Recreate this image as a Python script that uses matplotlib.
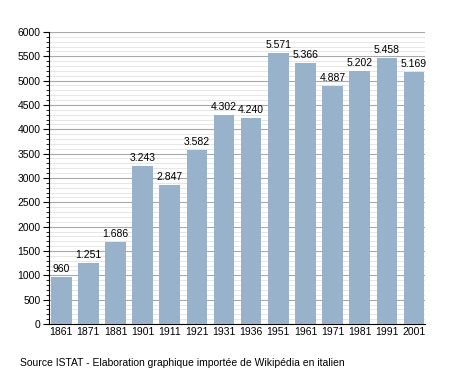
import matplotlib.pyplot as plt
from matplotlib.ticker import MultipleLocator
import numpy as np

plt.rcParams['font.family'] = ['Liberation Sans', 'DejaVu Sans']

years = ['1861', '1871', '1881', '1901', '1911', '1921', '1931', '1936',
         '1951', '1961', '1971', '1981', '1991', '2001']
population = [960, 1251, 1686, 3243, 2847, 3582, 4302, 4240,
              5571, 5366, 4887, 5202, 5458, 5169]
labels = ['960', '1.251', '1.686', '3.243', '2.847', '3.582', '4.302', '4.240',
          '5.571', '5.366', '4.887', '5.202', '5.458', '5.169']

fig = plt.figure(figsize=(4.55, 3.73), dpi=100)
ax = fig.add_axes([0.1077, 0.1314, 0.826, 0.783])

x = np.arange(len(years))
ax.bar(x, population, width=0.76, color='#98b2cc', zorder=3)

for xi, v, lab in zip(x, population, labels):
    ax.text(xi, v + 60, lab, ha='center', va='bottom', fontsize=7.5, zorder=4)

ax.set_ylim(0, 6000)
ax.set_xlim(-0.45, len(years) - 0.6)
ax.yaxis.set_major_locator(MultipleLocator(500))
ax.yaxis.set_minor_locator(MultipleLocator(100))
ax.grid(which='major', axis='y', color='#a8a8a8', linewidth=0.8, zorder=1)
ax.grid(which='minor', axis='y', color='#e2e2e2', linewidth=0.6, zorder=1)

ax.set_xticks(x)
ax.set_xticklabels(years)
ax.tick_params(axis='x', length=0, labelsize=7.5, pad=2)
ax.tick_params(axis='y', which='major', length=4, labelsize=7.5, pad=2)
ax.tick_params(axis='y', which='minor', length=2)

for s in ['top', 'right']:
    ax.spines[s].set_visible(False)
ax.spines['left'].set_linewidth(0.8)
ax.spines['bottom'].set_linewidth(0.8)

fig.text(0.044, 0.014, 'Source ISTAT - Elaboration graphique importée de Wikipédia en italien',
         fontsize=7.5, va='bottom', ha='left')

fig.savefig('out.png', dpi=100)
